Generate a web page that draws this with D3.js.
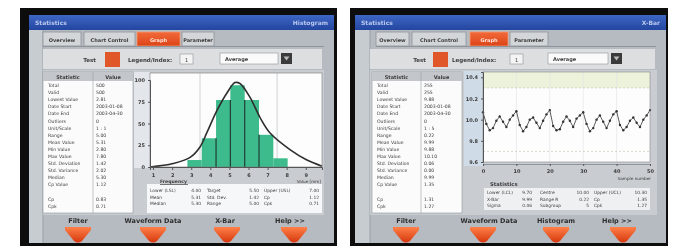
<!DOCTYPE html>
<html>
<head>
<meta charset="utf-8">
<script src="https://cdn.jsdelivr.net/npm/d3@7"></script>
<style>
  html, body { margin: 0; padding: 0; background: #fff; }
  svg { display: block; font-family: "DejaVu Sans", sans-serif; }
</style>
</head>
<body>
<svg id="chart" width="686" height="249"></svg>
<script>
// ---- data ----
const tabNames = ["Overview", "Chart Control", "Graph", "Parameter"];
const buttonsLeft = ["Filter", "Waveform Data", "X-Bar", "Help >>"];
const buttonsRight = ["Filter", "Waveform Data", "Histogram", "Help >>"];

const statNames = ["Total", "Valid", "Lowest Value", "Date Start", "Date End", "Outliers",
  "Unit/Scale", "Range", "Mean Value", "Min Value", "Max Value", "Std. Deviation",
  "Std. Variance", "Median", "Cp Value", "", "Cp", "Cpk"];
const statValuesHist = ["500", "500", "2.81", "2003-01-08", "2003-04-30", "0",
  "1 : 1", "5.00", "5.31", "2.80", "7.80", "1.42", "2.02", "5.30", "1.12", "", "0.83", "0.71"];
const statValuesXbar = ["255", "255", "9.88", "2003-01-08", "2003-04-30", "0",
  "1 : 5", "0.22", "9.99", "9.88", "10.10", "0.06", "0.00", "9.99", "1.35", "", "1.31", "1.27"];

// histogram
const binStarts = [2.8, 3.55, 4.3, 5.05, 5.8, 6.55, 7.3];
const binWidth = 0.75;
const binCounts = [8, 33, 77, 94, 77, 37, 10];
const curveX = [0.84, 2.05, 2.94, 3.46, 3.83, 4.35, 4.87, 5.29, 5.55, 6.08, 6.6, 7.13, 8.17, 9.06, 9.85];
const curveY = [0, 4, 11, 23, 40, 65, 85, 97, 96, 80, 57, 39, 20, 8, 1];
const histXTicks = [1, 2, 3, 4, 5, 6, 7, 8, 9];
const histYTicks = [0, 25, 50, 75, 100];
const histSummaryLabels = ["Lower (LSL)", "Target", "Upper (USL)",
  "Mean", "Std. Dev.", "Cp", "Median", "Range", "Cpk"];
const histSummaryValues = ["4.00", "5.50", "7.00", "5.31", "1.42", "1.12", "5.30", "5.00", "0.71"];

// x-bar chart
const xbarValues = [
  10.07, 9.96, 9.90, 9.92, 9.99, 10.03, 9.98, 9.93, 10.00, 10.04,
  10.08, 9.95, 9.89, 9.93, 10.00, 10.02, 9.97, 9.92, 9.99, 10.05,
  10.09, 9.94, 9.90, 9.91, 9.98, 10.03, 9.99, 9.93, 10.01, 10.04,
  10.07, 9.96, 9.89, 9.92, 10.00, 10.04, 9.98, 9.92, 9.99, 10.05,
  10.08, 9.95, 9.90, 9.93, 9.99, 10.02, 9.97, 9.93, 10.00, 10.04,
  10.09];
const xbarXTicks = [0, 10, 20, 30, 40, 50];
const xbarYTicks = [9.6, 9.8, 10.0, 10.2, 10.4];
const xbarLimits = [9.7, 10.3]; // LCL, UCL
const xbarSummaryLabels = ["Lower (LCL)", "Centre", "Upper (UCL)",
  "X-Bar", "Range R", "Cp", "Sigma", "Subgroup", "Cpk"];
const xbarSummaryValues = ["9.70", "10.00", "10.30", "9.99", "0.22", "1.35", "0.06", "5", "1.27"];

// ---- drawing ----
const svg = d3.select("#chart");
const ink = "#3c3c3c";

const defs = svg.append("defs");
function vGrad(id, c1, c2) {
  const lg = defs.append("linearGradient").attr("id", id)
    .attr("x1", 0).attr("y1", 0).attr("x2", 0).attr("y2", 1);
  lg.append("stop").attr("offset", "0%").attr("stop-color", c1);
  lg.append("stop").attr("offset", "100%").attr("stop-color", c2);
}
vGrad("titleGrad", "#3d66c4", "#2446a0");
vGrad("arrowGrad", "#ff8048", "#d6380e");
vGrad("tabGrad", "#f26a3a", "#dc4418");
defs.append("filter").attr("id", "soft")
  .append("feGaussianBlur").attr("stdDeviation", 0.4);

function txt(g, x, y, s, size, opts = {}) {
  return g.append("text")
    .attr("x", x).attr("y", y)
    .attr("font-size", size)
    .attr("fill", opts.fill || ink)
    .attr("font-weight", opts.bold ? "bold" : null)
    .attr("text-anchor", opts.anchor || "start")
    .text(s);
}

function drawWindow(cfg) {
  const g = svg.append("g").attr("filter", "url(#soft)");

  // monitor frame + window
  g.append("rect").attr("x", cfg.fx).attr("y", 8).attr("width", cfg.fw).attr("height", 238).attr("fill", "#0e0e0e");
  g.append("rect").attr("x", cfg.wx).attr("y", 15).attr("width", cfg.ww).attr("height", 228).attr("fill", "#b6bbc1");
  g.append("rect").attr("x", cfg.wx).attr("y", 15).attr("width", cfg.ww).attr("height", 15).attr("fill", "url(#titleGrad)");
  txt(g, cfg.wx + 6, 25, "Statistics", 6, { fill: "#b9c8ee", bold: true });
  txt(g, cfg.wx + cfg.ww - 6, 25, cfg.title, 6, { fill: "#b9c8ee", bold: true, anchor: "end" });
  g.append("rect").attr("x", cfg.wx).attr("y", 30).attr("width", cfg.strip - cfg.wx).attr("height", 213).attr("fill", "#c7ccd1");
  g.append("line").attr("x1", cfg.strip).attr("x2", cfg.strip).attr("y1", 30).attr("y2", 243).attr("stroke", "#9aa0a6");

  // tabs
  cfg.tabs.forEach((t, i) => {
    const active = tabNames[i] === "Graph";
    g.append("rect").attr("x", t[0]).attr("y", 32).attr("width", t[1] - t[0]).attr("height", 14)
      .attr("fill", active ? "url(#tabGrad)" : "#d3d6d9")
      .attr("stroke", active ? "#f39a72" : "#8e949a").attr("stroke-width", 0.8);
    txt(g, (t[0] + t[1]) / 2, 41.5, tabNames[i], 5, { anchor: "middle", bold: true, fill: active ? "#ffe6dc" : ink });
  });
  g.append("line").attr("x1", cfg.tabs[0][0]).attr("x2", cfg.ww + cfg.wx - 10).attr("y1", 46.5).attr("y2", 46.5).attr("stroke", "#8e949a");

  // toolbar
  const tb = cfg.toolbar;
  g.append("rect").attr("x", tb.x0).attr("y", 49).attr("width", tb.x1 - tb.x0).attr("height", 20).attr("fill", "#dcdee0");
  txt(g, tb.test, 62, "Test", 5.5, { anchor: "end", bold: true });
  g.append("rect").attr("x", tb.sq).attr("y", 52).attr("width", 15).attr("height", 15).attr("fill", "#e0582a");
  txt(g, tb.legend, 62, "Legend/Index:", 5.5, { bold: true });
  g.append("rect").attr("x", tb.box).attr("y", 54).attr("width", 13).attr("height", 10).attr("fill", "#f4f4f4").attr("stroke", "#8e949a").attr("stroke-width", 0.6);
  txt(g, tb.box + 6.5, 61.5, "1", 5, { anchor: "middle" });
  g.append("rect").attr("x", tb.drop).attr("y", 53).attr("width", tb.dropW).attr("height", 11).attr("fill", "#fafafa").attr("stroke", "#8e949a").attr("stroke-width", 0.6);
  txt(g, tb.drop + 5, 61, "Average", 5, { bold: true });
  g.append("rect").attr("x", tb.drop + tb.dropW + 3).attr("y", 53).attr("width", 11).attr("height", 11).attr("fill", "#3a3a3a");
  g.append("path").attr("d", `M${tb.drop + tb.dropW + 5.5},56.5 h6 l-3,4 z`).attr("fill", "#bbb");

  // content panel
  g.append("rect").attr("x", tb.x0).attr("y", 70).attr("width", tb.x1 - tb.x0 + 2).attr("height", 145).attr("fill", "#c9cdd1");

  // statistics table
  const tbl = cfg.table;
  g.append("rect").attr("x", tbl.x0).attr("y", 72).attr("width", tbl.x1 - tbl.x0).attr("height", 141)
    .attr("fill", "#fbfbfb").attr("stroke", "#8e949a").attr("stroke-width", 0.6);
  g.append("rect").attr("x", tbl.x0).attr("y", 72).attr("width", tbl.x1 - tbl.x0).attr("height", 9).attr("fill", "#c3c7cb");
  g.append("line").attr("x1", tbl.div).attr("x2", tbl.div).attr("y1", 72).attr("y2", 213).attr("stroke", "#9aa0a6").attr("stroke-width", 0.6);
  txt(g, (tbl.x0 + tbl.div) / 2, 79, "Statistic", 5, { anchor: "middle", bold: true });
  txt(g, (tbl.div + tbl.x1) / 2, 79, "Value", 5, { anchor: "middle", bold: true });
  statNames.forEach((s, i) => {
    const y = 87 + i * 7.1;
    txt(g, tbl.x0 + 5, y, s, 4.6);
    txt(g, tbl.div + 3, y, cfg.values[i], 4.6);
  });

  // buttons
  cfg.buttons.forEach((b, i) => {
    txt(g, cfg.btnText[i], 223, b, 6.5, { anchor: "middle", bold: true, fill: "#2e2e2e" });
    const cx = cfg.btnArrow[i];
    g.append("path")
      .attr("d", `M${cx - 13},227 h26 v3 l-9,11 q-4,3 -8,0 l-9,-11 z`)
      .attr("fill", "url(#arrowGrad)");
  });

  return g;
}

function summaryBlock(g, labels, values, xs, xe, ys) {
  labels.forEach((l, i) => {
    const col = i % 3, row = Math.floor(i / 3);
    txt(g, xs[col], ys[row], l, 4.4);
    txt(g, xe[col], ys[row], values[i], 4.4, { anchor: "end" });
  });
}

function styleAxis(a) {
  a.select(".domain").attr("stroke", "#555");
  a.selectAll(".tick line").attr("stroke", "#555");
  a.selectAll(".tick text").attr("font-size", 5).attr("fill", ink).attr("font-weight", "bold")
    .attr("font-family", "DejaVu Sans, sans-serif");
}

// ---------- left: histogram ----------
const left = drawWindow({
  fx: 20, fw: 317, wx: 29, ww: 305, strip: 43, title: "Histogram",
  tabs: [[43, 81], [84, 135], [137, 180], [182, 214]],
  toolbar: { x0: 43, x1: 322, test: 96, sq: 105, legend: 128, box: 180, drop: 220, dropW: 58 },
  table: { x0: 43, x1: 133, div: 93 },
  values: statValuesHist,
  buttons: buttonsLeft,
  btnText: [78, 153, 225, 290],
  btnArrow: [78, 153, 227, 294]
});

const hp = { x0: 150, x1: 322, y0: 73, y1: 167 };
left.append("rect").attr("x", 134).attr("y", 72).attr("width", 16).attr("height", 96).attr("fill", "#e3e6ea");
left.append("rect").attr("x", hp.x0).attr("y", hp.y0).attr("width", hp.x1 - hp.x0).attr("height", hp.y1 - hp.y0).attr("fill", "#fdfdfd");

const hx = d3.scaleLinear().domain([0.84, 9.85]).range([hp.x0, hp.x1]);
const hy = d3.scaleLinear().domain([0, 100]).range([hp.y1, hp.y1 - 87]);

left.append("g").selectAll("line").data([3.46, 7.5]).join("line")
  .attr("x1", d => hx(d)).attr("x2", d => hx(d)).attr("y1", hp.y0).attr("y2", hp.y1)
  .attr("stroke", "#c4c8cc").attr("stroke-width", 0.8);

left.append("g").selectAll("rect").data(binStarts).join("rect")
  .attr("x", d => hx(d)).attr("width", d => hx(d + binWidth) - hx(d))
  .attr("y", (d, i) => hy(binCounts[i])).attr("height", (d, i) => hy(0) - hy(binCounts[i]))
  .attr("fill", "#3dbb8c");
left.append("g").selectAll("line").data(binStarts.slice(2, 6)).join("line")
  .attr("x1", d => hx(d)).attr("x2", d => hx(d))
  .attr("y1", (d, i) => hy(Math.min(binCounts[i + 1], binCounts[i + 2]))).attr("y2", hy(0))
  .attr("stroke", "#1f3d33").attr("stroke-width", 1.2);

const curveLine = d3.line().x(d => hx(d[0])).y(d => hy(d[1])).curve(d3.curveCatmullRom);
left.append("path").datum(curveX.map((x, i) => [x, curveY[i]]))
  .attr("d", curveLine).attr("fill", "none").attr("stroke", "#2e2e2e").attr("stroke-width", 1.6);

left.append("rect").attr("x", hp.x0).attr("y", hp.y0).attr("width", hp.x1 - hp.x0).attr("height", hp.y1 - hp.y0)
  .attr("fill", "none").attr("stroke", "#777").attr("stroke-width", 0.6);

const hxa = left.append("g").attr("transform", `translate(0,${hp.y1})`)
  .call(d3.axisBottom(hx).tickValues(histXTicks).tickSize(3).tickFormat(d3.format("d")));
styleAxis(hxa);
const hya = left.append("g").attr("transform", `translate(${hp.x0},0)`)
  .call(d3.axisLeft(hy).tickValues(histYTicks).tickSize(2));
styleAxis(hya);

left.append("rect").attr("x", 147).attr("y", 184).attr("width", 175).attr("height", 29).attr("fill", "#f6f7f8");
txt(left, 160, 183, "Frequency", 4.6, { bold: true });
left.append("line").attr("x1", 160).attr("x2", 188).attr("y1", 184.5).attr("y2", 184.5).attr("stroke", ink).attr("stroke-width", 0.7);
txt(left, 321, 183, "Value [mm]", 4.2, { anchor: "end" });
summaryBlock(left, histSummaryLabels, histSummaryValues, [150, 207, 264], [201, 259, 319], [192, 198.5, 205]);

// ---------- right: x-bar ----------
const right = drawWindow({
  fx: 350, fw: 318, wx: 355, ww: 311, strip: 370, title: "X-Bar",
  tabs: [[376, 409], [412, 466], [470, 508], [510, 548]],
  toolbar: { x0: 370, x1: 655, test: 426, sq: 433, legend: 452, box: 510, drop: 548, dropW: 60 },
  table: { x0: 372, x1: 462, div: 421 },
  values: statValuesXbar,
  buttons: buttonsRight,
  btnText: [406, 489, 556, 617],
  btnArrow: [406, 483, 556, 623]
});

const xp = { x0: 483, x1: 650, y0: 72, y1: 162 };
right.append("rect").attr("x", 464).attr("y", 71).attr("width", 19).attr("height", 95).attr("fill", "#cfdbe6");
right.append("rect").attr("x", xp.x0).attr("y", xp.y0).attr("width", xp.x1 - xp.x0).attr("height", xp.y1 - xp.y0).attr("fill", "#fdfdfd");

const xx = d3.scaleLinear().domain([0, 50]).range([xp.x0, xp.x1]);
const xy = d3.scaleLinear().domain([9.6, 10.45]).range([xp.y1, xp.y0]);

right.append("rect").attr("x", xp.x0).attr("y", xp.y0).attr("width", xp.x1 - xp.x0)
  .attr("height", xy(xbarLimits[1]) - xp.y0).attr("fill", "#edf2da");
right.append("g").selectAll("line").data(xbarXTicks.slice(1, 5)).join("line")
  .attr("x1", d => xx(d)).attr("x2", d => xx(d)).attr("y1", xp.y0).attr("y2", xp.y1)
  .attr("stroke", "#e2e5e8").attr("stroke-width", 0.7);
right.append("g").selectAll("line").data(xbarLimits).join("line")
  .attr("x1", xp.x0).attr("x2", xp.x1).attr("y1", d => xy(d)).attr("y2", d => xy(d))
  .attr("stroke", "#c9ccb8").attr("stroke-width", 0.7).attr("stroke-dasharray", "2,2");

const xline = d3.line().x((d, i) => xx(i)).y(d => xy(d));
right.append("path").datum(xbarValues).attr("d", xline)
  .attr("fill", "none").attr("stroke", "#4a4a4a").attr("stroke-width", 0.9);
right.append("g").selectAll("circle").data(xbarValues).join("circle")
  .attr("cx", (d, i) => xx(i)).attr("cy", d => xy(d)).attr("r", 1.2).attr("fill", "#333");

right.append("rect").attr("x", xp.x0).attr("y", xp.y0).attr("width", xp.x1 - xp.x0).attr("height", xp.y1 - xp.y0)
  .attr("fill", "none").attr("stroke", "#888").attr("stroke-width", 0.6);

const xxa = right.append("g").attr("transform", `translate(0,${xp.y1 + 2})`)
  .call(d3.axisBottom(xx).tickValues(xbarXTicks).tickSize(2));
styleAxis(xxa);
xxa.select(".domain").attr("stroke", "#8e949a");
const xya = right.append("g").attr("transform", `translate(${xp.x0},0)`)
  .call(d3.axisLeft(xy).tickValues(xbarYTicks).tickSize(2).tickFormat(d3.format(".1f")));
styleAxis(xya);

txt(right, 651, 180, "Sample number", 4.2, { anchor: "end" });
txt(right, 490, 186, "Statistics", 5.2, { bold: true });
right.append("rect").attr("x", 484).attr("y", 188).attr("width", 166).attr("height", 22).attr("fill", "#eef0f2");
summaryBlock(right, xbarSummaryLabels, xbarSummaryValues, [487, 540, 594], [532, 589, 647], [194, 200.5, 207]);
</script>
</body>
</html>
